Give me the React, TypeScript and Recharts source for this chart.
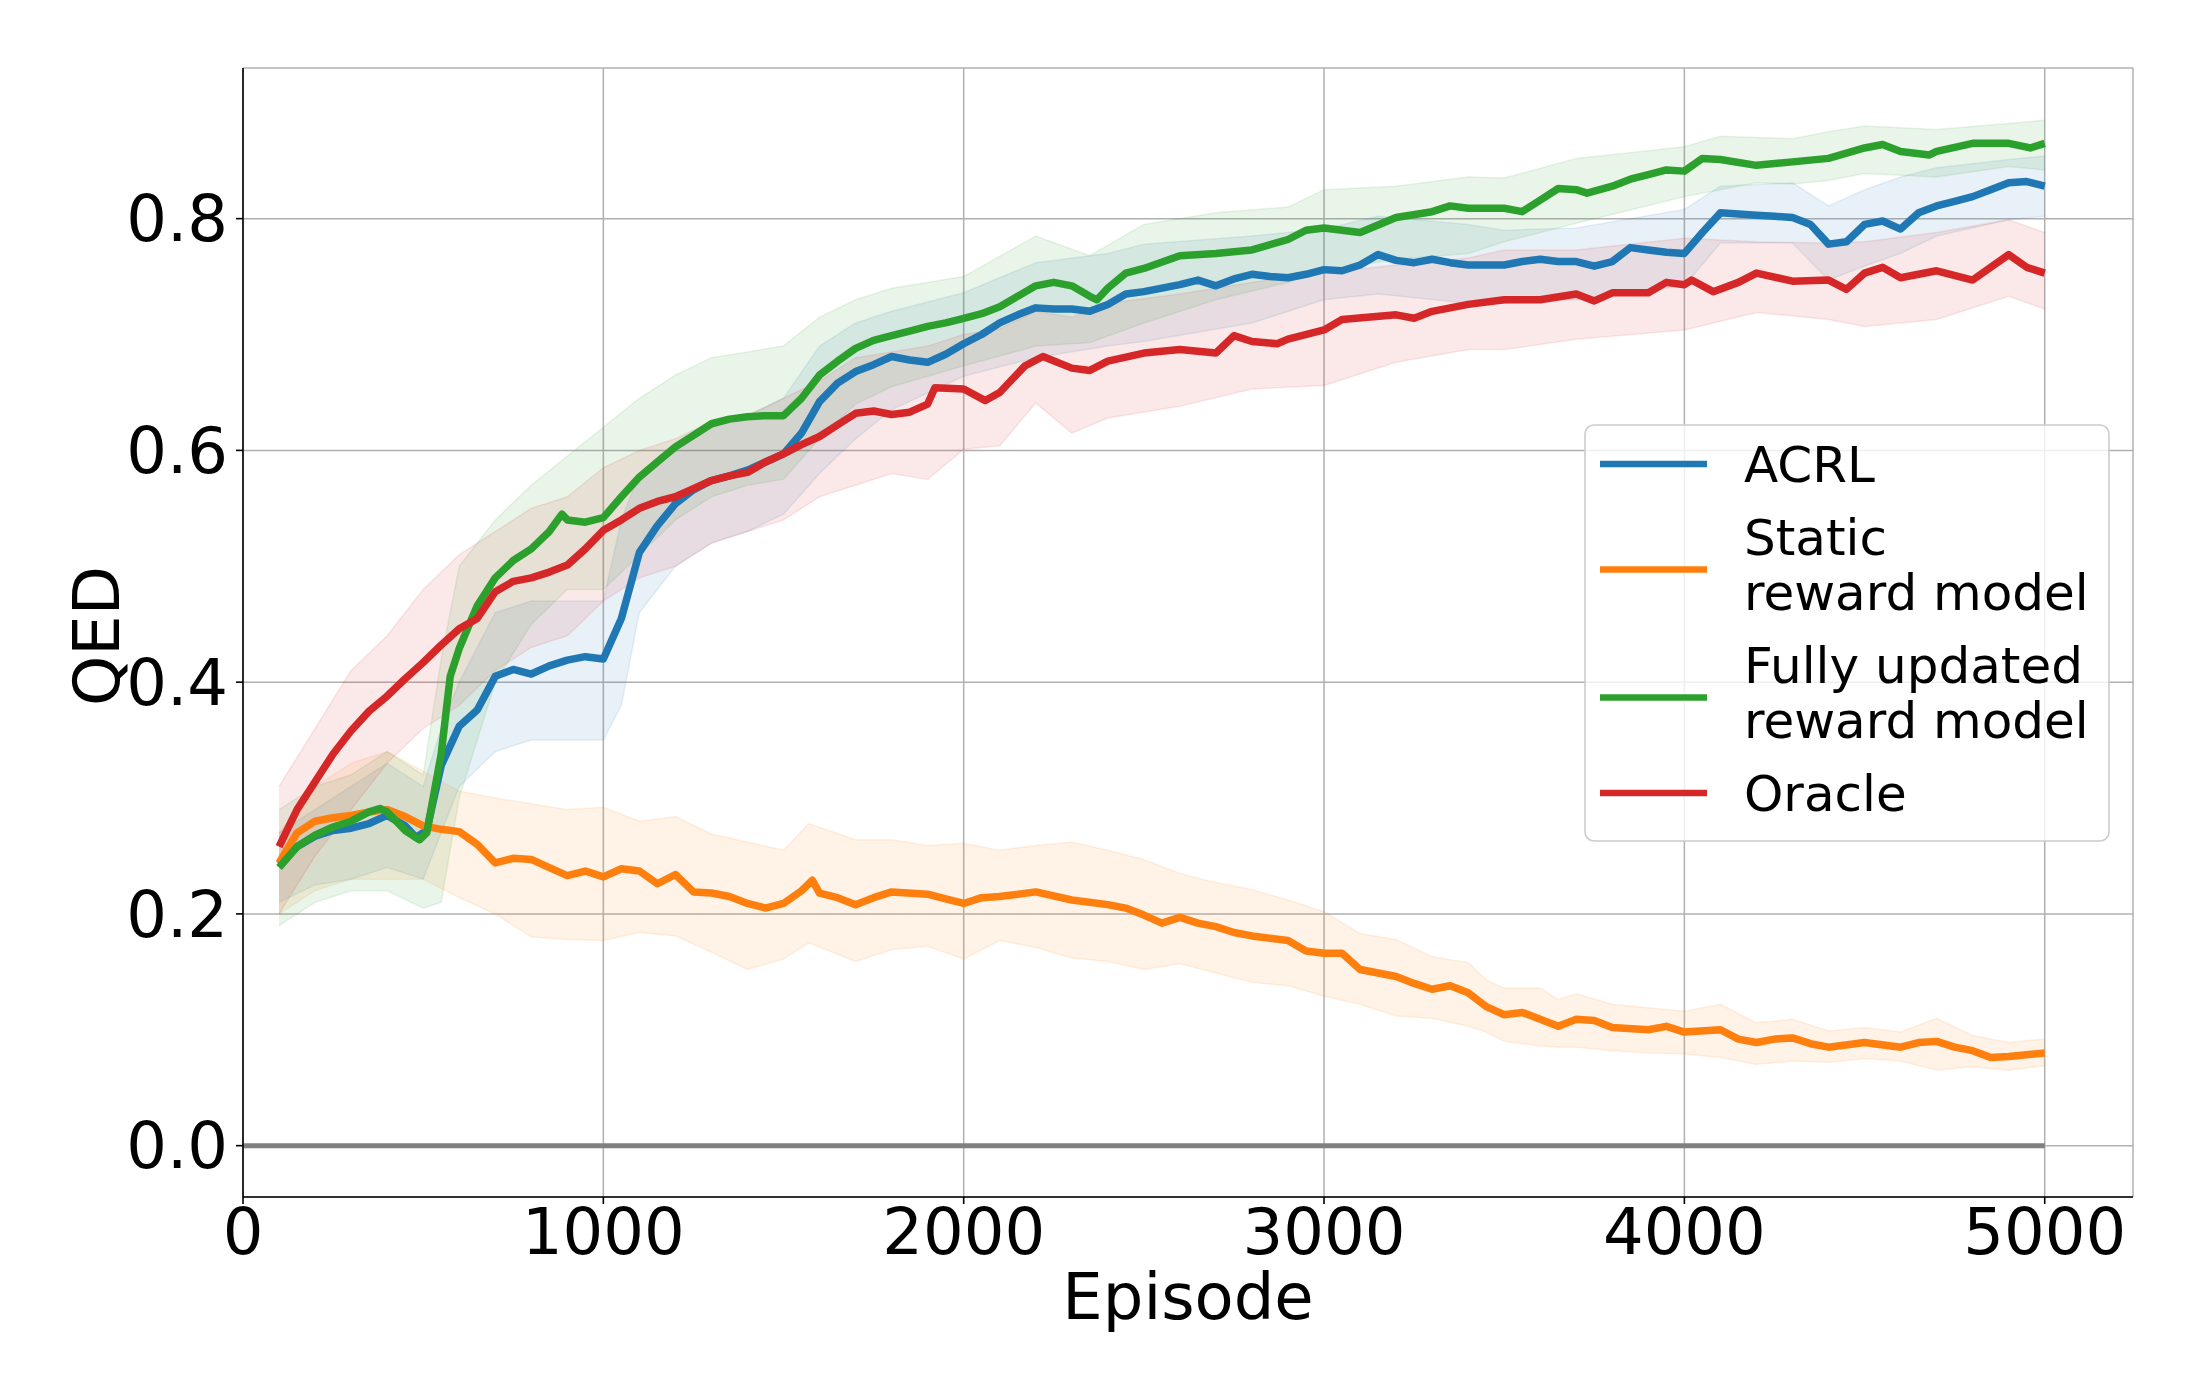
import React from 'react';
import {
  Area,
  CartesianGrid,
  ComposedChart,
  Legend,
  Line,
  XAxis,
  YAxis,
} from 'recharts';

const FONT = '"DejaVu Sans", sans-serif';

// axis ticks
const X_TICKS = [0, 1000, 2000, 3000, 4000, 5000];
const Y_TICKS = [0, 0.2, 0.4, 0.6, 0.8];

// [episode, mean QED]
const ACRL_MEAN: [number, number][] = [
  [100, 0.243], [150, 0.258], [200, 0.267], [250, 0.272], [300, 0.274], [350, 0.278],
  [400, 0.285], [450, 0.276], [480, 0.266], [510, 0.272], [550, 0.328], [600, 0.362],
  [650, 0.376], [700, 0.405], [750, 0.411], [800, 0.407], [850, 0.414], [900, 0.419],
  [950, 0.422], [1000, 0.42], [1050, 0.455], [1100, 0.512], [1150, 0.535], [1200, 0.554],
  [1250, 0.566], [1300, 0.574], [1350, 0.578], [1400, 0.583], [1450, 0.59], [1500, 0.597],
  [1550, 0.615], [1600, 0.642], [1650, 0.658], [1700, 0.668], [1750, 0.674], [1800, 0.681],
  [1850, 0.678], [1900, 0.676], [1950, 0.683], [2000, 0.692], [2050, 0.7], [2100, 0.71],
  [2150, 0.717], [2200, 0.723], [2250, 0.722], [2300, 0.722], [2350, 0.72], [2400, 0.726],
  [2450, 0.735], [2500, 0.737], [2550, 0.74], [2600, 0.743], [2650, 0.747], [2700, 0.742],
  [2750, 0.748], [2800, 0.752], [2850, 0.75], [2900, 0.749], [2950, 0.752], [3000, 0.756],
  [3050, 0.755], [3100, 0.76], [3150, 0.769], [3200, 0.764], [3250, 0.762], [3300, 0.765],
  [3350, 0.762], [3400, 0.76], [3450, 0.76], [3500, 0.76], [3550, 0.763], [3600, 0.765],
  [3650, 0.763], [3700, 0.763], [3750, 0.759], [3800, 0.763], [3850, 0.775], [3900, 0.773],
  [3950, 0.771], [4000, 0.77], [4050, 0.788], [4100, 0.805], [4150, 0.804], [4200, 0.803],
  [4250, 0.802], [4300, 0.801], [4350, 0.795], [4400, 0.778], [4450, 0.78], [4500, 0.795],
  [4550, 0.798], [4600, 0.791], [4650, 0.805], [4700, 0.811], [4750, 0.815], [4800, 0.819],
  [4850, 0.825], [4900, 0.831], [4950, 0.832], [5000, 0.828],
];

const STATIC_MEAN: [number, number][] = [
  [100, 0.244], [150, 0.27], [200, 0.28], [250, 0.283], [300, 0.285], [350, 0.288],
  [400, 0.29], [450, 0.284], [500, 0.276], [550, 0.273], [600, 0.271], [650, 0.26],
  [700, 0.244], [750, 0.248], [800, 0.247], [850, 0.24], [900, 0.233], [950, 0.237],
  [1000, 0.232], [1050, 0.239], [1100, 0.237], [1150, 0.226], [1200, 0.234], [1250, 0.219],
  [1300, 0.218], [1350, 0.215], [1400, 0.209], [1450, 0.205], [1500, 0.209], [1550, 0.22],
  [1580, 0.229], [1600, 0.218], [1650, 0.214], [1700, 0.208], [1750, 0.214], [1800, 0.219],
  [1900, 0.217], [1950, 0.213], [2000, 0.209], [2050, 0.214], [2100, 0.215], [2200, 0.219],
  [2300, 0.212], [2400, 0.208], [2450, 0.205], [2500, 0.199], [2550, 0.192], [2600, 0.197],
  [2650, 0.192], [2700, 0.189], [2750, 0.184], [2800, 0.181], [2900, 0.177], [2950, 0.168],
  [3000, 0.166], [3050, 0.166], [3100, 0.152], [3150, 0.149], [3200, 0.146], [3250, 0.14],
  [3300, 0.135], [3350, 0.138], [3400, 0.132], [3450, 0.12], [3500, 0.113], [3550, 0.115],
  [3600, 0.109], [3650, 0.103], [3700, 0.109], [3750, 0.108], [3800, 0.102], [3900, 0.1],
  [3950, 0.103], [4000, 0.098], [4100, 0.1], [4150, 0.092], [4200, 0.089], [4250, 0.092],
  [4300, 0.093], [4350, 0.088], [4400, 0.085], [4500, 0.089], [4600, 0.085], [4650, 0.089],
  [4700, 0.09], [4750, 0.085], [4800, 0.082], [4850, 0.076], [4900, 0.077], [5000, 0.08],
];

const FULLY_MEAN: [number, number][] = [
  [100, 0.24], [150, 0.258], [200, 0.268], [250, 0.275], [300, 0.28], [350, 0.288],
  [380, 0.291], [400, 0.288], [450, 0.272], [490, 0.264], [510, 0.27], [550, 0.338],
  [575, 0.405], [600, 0.429], [650, 0.466], [700, 0.49], [750, 0.505], [800, 0.515],
  [850, 0.53], [885, 0.545], [900, 0.54], [950, 0.538], [1000, 0.542], [1050, 0.56],
  [1100, 0.577], [1150, 0.59], [1200, 0.603], [1250, 0.613], [1300, 0.623], [1350, 0.627],
  [1400, 0.629], [1450, 0.63], [1500, 0.63], [1550, 0.645], [1600, 0.665], [1650, 0.677],
  [1700, 0.688], [1750, 0.695], [1800, 0.699], [1850, 0.703], [1900, 0.707], [1950, 0.71],
  [2000, 0.714], [2050, 0.718], [2100, 0.724], [2150, 0.733], [2200, 0.742], [2250, 0.745],
  [2300, 0.742], [2350, 0.733], [2370, 0.73], [2400, 0.74], [2450, 0.753], [2500, 0.757],
  [2600, 0.768], [2700, 0.77], [2800, 0.773], [2900, 0.782], [2950, 0.79], [3000, 0.792],
  [3100, 0.788], [3200, 0.801], [3300, 0.806], [3350, 0.811], [3400, 0.809], [3500, 0.809],
  [3550, 0.806], [3600, 0.816], [3650, 0.826], [3700, 0.825], [3730, 0.822], [3800, 0.828],
  [3850, 0.834], [3900, 0.838], [3950, 0.842], [4000, 0.841], [4050, 0.852], [4100, 0.851],
  [4200, 0.846], [4300, 0.849], [4400, 0.852], [4500, 0.861], [4550, 0.864], [4600, 0.858],
  [4680, 0.855], [4700, 0.858], [4800, 0.865], [4900, 0.865], [4960, 0.861], [5000, 0.865],
];

const ORACLE_MEAN: [number, number][] = [
  [100, 0.258], [150, 0.29], [200, 0.314], [250, 0.338], [300, 0.358], [350, 0.375],
  [400, 0.388], [450, 0.403], [500, 0.417], [550, 0.432], [600, 0.446], [650, 0.455],
  [700, 0.478], [750, 0.487], [800, 0.49], [850, 0.495], [900, 0.501], [950, 0.515],
  [1000, 0.531], [1050, 0.54], [1100, 0.55], [1150, 0.556], [1200, 0.56], [1250, 0.567],
  [1300, 0.574], [1350, 0.578], [1400, 0.581], [1450, 0.59], [1500, 0.597], [1550, 0.605],
  [1600, 0.612], [1650, 0.622], [1700, 0.632], [1750, 0.634], [1800, 0.631], [1850, 0.633],
  [1900, 0.64], [1920, 0.654], [2000, 0.653], [2060, 0.643], [2100, 0.65], [2170, 0.673],
  [2220, 0.681], [2300, 0.671], [2350, 0.669], [2400, 0.677], [2500, 0.684], [2600, 0.687],
  [2700, 0.684], [2750, 0.699], [2800, 0.694], [2870, 0.692], [2900, 0.696], [3000, 0.704],
  [3050, 0.713], [3200, 0.717], [3250, 0.714], [3300, 0.72], [3400, 0.726], [3500, 0.73],
  [3600, 0.73], [3700, 0.735], [3750, 0.729], [3800, 0.736], [3900, 0.736], [3950, 0.745],
  [4000, 0.743], [4020, 0.747], [4080, 0.737], [4150, 0.745], [4200, 0.753], [4300, 0.746],
  [4400, 0.747], [4450, 0.739], [4500, 0.753], [4550, 0.758], [4600, 0.749], [4700, 0.755],
  [4800, 0.747], [4900, 0.769], [4950, 0.758], [5000, 0.753],
];

// [episode, lower, upper] of the shaded spread
const ACRL_BAND: [number, number, number][] = [
  [100, 0.21, 0.27], [200, 0.225, 0.29], [300, 0.23, 0.31], [400, 0.24, 0.33], [500, 0.23, 0.31],
  [550, 0.27, 0.36], [600, 0.31, 0.4], [700, 0.34, 0.46], [800, 0.35, 0.47], [900, 0.35, 0.47],
  [1000, 0.35, 0.47], [1050, 0.38, 0.54], [1100, 0.46, 0.58], [1200, 0.5, 0.6], [1300, 0.52, 0.62],
  [1400, 0.53, 0.63], [1500, 0.545, 0.645], [1600, 0.58, 0.69], [1700, 0.61, 0.71], [1800, 0.635, 0.72],
  [2000, 0.664, 0.736], [2200, 0.68, 0.762], [2400, 0.69, 0.77], [2500, 0.694, 0.778], [2800, 0.71, 0.785],
  [3000, 0.73, 0.791], [3150, 0.735, 0.802], [3400, 0.727, 0.795], [3500, 0.727, 0.79], [3700, 0.73, 0.792],
  [4000, 0.742, 0.808], [4100, 0.779, 0.828], [4300, 0.779, 0.831], [4400, 0.747, 0.811], [4500, 0.759, 0.825],
  [4600, 0.77, 0.836], [4700, 0.785, 0.844], [4900, 0.799, 0.851], [5000, 0.802, 0.854],
];

const STATIC_BAND: [number, number, number][] = [
  [100, 0.2, 0.27], [200, 0.22, 0.31], [300, 0.23, 0.33], [400, 0.23, 0.34], [500, 0.23, 0.323],
  [600, 0.214, 0.306], [700, 0.2, 0.3], [800, 0.18, 0.295], [900, 0.178, 0.29], [1000, 0.177, 0.292],
  [1100, 0.184, 0.28], [1200, 0.181, 0.284], [1300, 0.167, 0.269], [1400, 0.152, 0.262], [1500, 0.161, 0.255],
  [1570, 0.175, 0.278], [1700, 0.159, 0.264], [1800, 0.169, 0.264], [1900, 0.172, 0.259], [2000, 0.161, 0.261],
  [2100, 0.177, 0.255], [2200, 0.171, 0.259], [2300, 0.162, 0.262], [2400, 0.159, 0.255], [2500, 0.152, 0.247],
  [2600, 0.157, 0.235], [2700, 0.149, 0.227], [2800, 0.141, 0.221], [2900, 0.138, 0.212], [3000, 0.129, 0.202],
  [3100, 0.122, 0.183], [3200, 0.112, 0.178], [3300, 0.11, 0.163], [3400, 0.103, 0.158], [3450, 0.098, 0.143],
  [3500, 0.09, 0.136], [3600, 0.086, 0.136], [3650, 0.085, 0.126], [3700, 0.085, 0.131], [3800, 0.082, 0.122],
  [3900, 0.08, 0.119], [4000, 0.079, 0.116], [4100, 0.076, 0.122], [4200, 0.07, 0.106], [4300, 0.073, 0.109],
  [4400, 0.072, 0.099], [4500, 0.075, 0.102], [4600, 0.073, 0.098], [4700, 0.065, 0.11], [4800, 0.068, 0.095],
  [4900, 0.065, 0.089], [5000, 0.069, 0.092],
];

const FULLY_BAND: [number, number, number][] = [
  [100, 0.19, 0.29], [200, 0.21, 0.31], [300, 0.22, 0.32], [400, 0.22, 0.34], [500, 0.205, 0.32],
  [550, 0.21, 0.42], [600, 0.3, 0.5], [700, 0.4, 0.54], [800, 0.45, 0.57], [900, 0.48, 0.595],
  [1000, 0.48, 0.62], [1100, 0.51, 0.645], [1200, 0.54, 0.665], [1300, 0.56, 0.68], [1400, 0.57, 0.685],
  [1500, 0.575, 0.69], [1600, 0.61, 0.715], [1700, 0.64, 0.73], [1800, 0.655, 0.74], [2000, 0.673, 0.75],
  [2200, 0.69, 0.785], [2350, 0.693, 0.768], [2500, 0.71, 0.795], [2700, 0.73, 0.805], [2900, 0.745, 0.81],
  [3000, 0.755, 0.825], [3200, 0.765, 0.828], [3400, 0.77, 0.836], [3500, 0.78, 0.835], [3700, 0.796, 0.852],
  [4000, 0.819, 0.862], [4100, 0.825, 0.871], [4200, 0.831, 0.87], [4300, 0.83, 0.869], [4400, 0.833, 0.875],
  [4500, 0.839, 0.88], [4700, 0.836, 0.877], [4900, 0.845, 0.882], [5000, 0.842, 0.885],
];

const ORACLE_BAND: [number, number, number][] = [
  [100, 0.2, 0.31], [200, 0.25, 0.36], [300, 0.29, 0.41], [400, 0.33, 0.44], [500, 0.36, 0.48],
  [600, 0.38, 0.51], [700, 0.41, 0.53], [800, 0.43, 0.55], [900, 0.44, 0.56], [1000, 0.47, 0.585],
  [1100, 0.49, 0.6], [1200, 0.5, 0.61], [1300, 0.52, 0.625], [1400, 0.53, 0.63], [1500, 0.54, 0.645],
  [1600, 0.56, 0.66], [1700, 0.57, 0.68], [1800, 0.58, 0.685], [1900, 0.575, 0.69], [2000, 0.601, 0.7],
  [2100, 0.604, 0.705], [2200, 0.641, 0.72], [2300, 0.615, 0.715], [2400, 0.628, 0.727], [2600, 0.638, 0.735],
  [2800, 0.653, 0.745], [3000, 0.656, 0.753], [3200, 0.676, 0.76], [3400, 0.687, 0.766], [3500, 0.687, 0.773],
  [3700, 0.696, 0.773], [4000, 0.704, 0.783], [4200, 0.719, 0.78], [4400, 0.713, 0.779], [4500, 0.707, 0.78],
  [4700, 0.713, 0.788], [4900, 0.733, 0.799], [5000, 0.722, 0.788],
];

// grey reference line at QED = 0
const ZERO_LINE: [number, number][] = [[0, 0], [5000, 0]];

const SERIES = [
  { name: 'ACRL', color: '#1f77b4', mean: ACRL_MEAN, band: ACRL_BAND },
  { name: 'Static\nreward model', color: '#ff7f0e', mean: STATIC_MEAN, band: STATIC_BAND },
  { name: 'Fully updated\nreward model', color: '#2ca02c', mean: FULLY_MEAN, band: FULLY_BAND },
  { name: 'Oracle', color: '#d62728', mean: ORACLE_MEAN, band: ORACLE_BAND },
];
const SERIES_ORDER = SERIES.map(s => s.name);

const toLine = (pts: [number, number][]) => pts.map(([ep, v]) => ({ ep, v }));
const toBand = (pts: [number, number, number][]) =>
  pts.map(([ep, lo, hi]) => ({ ep, range: [lo, hi] }));

/**
 * matplotlib-style legend box
 */
const LegendBox = ({ payload }: any) => {
  const items = (payload || [])
    .filter((p: any) => p.type !== 'none' && SERIES_ORDER.includes(String(p.value)))
    .sort((a: any, b: any) => SERIES_ORDER.indexOf(String(a.value)) - SERIES_ORDER.indexOf(String(b.value)));
  let baseline = 58;
  const rows = items.map((p: any) => {
    const lines = String(p.value).split('\n');
    const first = baseline;
    baseline += (lines.length - 1) * 55 + 73;
    return { key: p.value, color: p.color, lines, first };
  });
  return (
    <svg width={526} height={418} style={{ display: 'block' }}>
      <rect x={1} y={1} width={524} height={416} rx={9} fill="#fff" fillOpacity={0.8}
        stroke="#cccccc" strokeWidth={1.6} />
      {rows.map((r: any) => {
        const ly = r.first - 18 + (r.lines.length - 1) * 32.5;
        return (
          <g key={r.key}>
            <line x1={16} x2={123} y1={ly} y2={ly} stroke={r.color} strokeWidth={6.7} />
            <text x={160} y={r.first} fontSize={50} fontFamily={FONT} fill="#000">
              {r.lines.map((t: string, i: number) => (
                <tspan key={i} x={160} dy={i === 0 ? 0 : 55}>{t}</tspan>
              ))}
            </text>
          </g>
        );
      })}
    </svg>
  );
};

const QedLabel = () => (
  <text x={119} y={636} transform="rotate(-90, 119, 636)" textAnchor="middle"
    fontSize={64} fontFamily={FONT} fill="#000">QED</text>
);

const EpisodeLabel = () => (
  <text x={1188} y={1319} textAnchor="middle" fontSize={64} fontFamily={FONT} fill="#000">Episode</text>
);

const tickStyle = { fontSize: 64, fontFamily: FONT, fill: '#000' };

export default function App() {
  return (
    <div style={{ position: 'absolute', left: 0, top: 0, width: 2200, height: 1400, background: '#fff' }}>
      <ComposedChart width={2200} height={1400} margin={{ top: 68, right: 67, bottom: 0, left: 0 }}>
        <CartesianGrid stroke="#b0b0b0" strokeWidth={1.5} />
        <XAxis
          type="number"
          dataKey="ep"
          domain={[0, 5245]}
          ticks={X_TICKS}
          allowDataOverflow
          height={203}
          axisLine={{ stroke: '#000', strokeWidth: 1.6 }}
          tickLine={{ stroke: '#000', strokeWidth: 1.6 }}
          tickSize={7}
          tickMargin={5}
          tick={tickStyle}
          interval={0}
          label={<EpisodeLabel />}
        />
        <YAxis
          type="number"
          domain={[-0.0443, 0.93]}
          ticks={Y_TICKS}
          allowDataOverflow
          width={243}
          axisLine={{ stroke: '#000', strokeWidth: 1.6 }}
          tickLine={{ stroke: '#000', strokeWidth: 1.6 }}
          tickSize={7}
          tickMargin={8}
          tick={tickStyle}
          interval={0}
          tickFormatter={(v: number) => v.toFixed(1)}
          label={<QedLabel />}
        />
        <XAxis xAxisId="top" orientation="top" type="number" domain={[0, 5245]} height={0}
          tick={false} tickLine={false} axisLine={{ stroke: '#000', strokeWidth: 1.6 }} />
        <YAxis yAxisId="right" orientation="right" type="number" domain={[-0.0443, 0.93]} width={0}
          tick={false} tickLine={false} axisLine={{ stroke: '#000', strokeWidth: 1.6 }} />

        <Line
          data={toLine(ZERO_LINE)}
          dataKey="v"
          stroke="#808080"
          strokeWidth={5}
          dot={false}
          legendType="none"
          isAnimationActive={false}
        />

        {SERIES.map(s => (
          <Area
            key={`band-${s.name}`}
            data={toBand(s.band)}
            dataKey="range"
            type="linear"
            fill={s.color}
            fillOpacity={0.1}
            stroke={s.color}
            strokeOpacity={0.1}
            strokeWidth={1.5}
            legendType="none"
            isAnimationActive={false}
          />
        ))}

        {SERIES.map(s => (
          <Line
            key={s.name}
            name={s.name}
            data={toLine(s.mean)}
            dataKey="v"
            type="linear"
            stroke={s.color}
            strokeWidth={7.5}
            strokeLinejoin="round"
            dot={false}
            isAnimationActive={false}
          />
        ))}

        <Legend
          layout="vertical"
          align="center"
          verticalAlign="middle"
          content={<LegendBox />}
          wrapperStyle={{ left: 1584, top: 424, width: 526, height: 418 }}
        />
      </ComposedChart>
    </div>
  );
}
